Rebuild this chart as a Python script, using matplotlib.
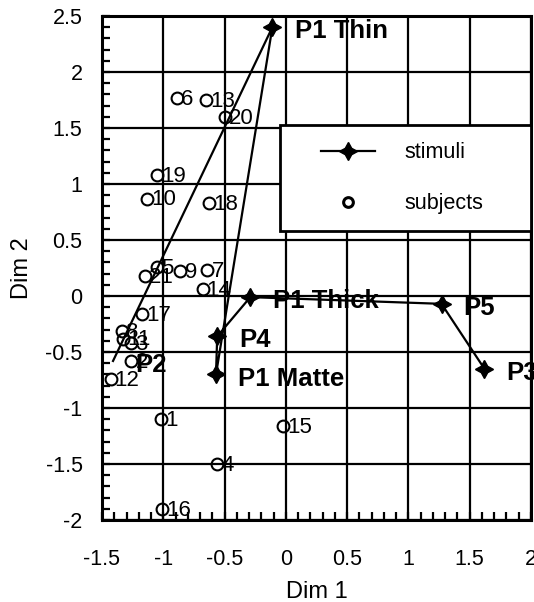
import matplotlib
matplotlib.use("Agg")
import matplotlib.pyplot as plt
from matplotlib.patches import Rectangle
from matplotlib.lines import Line2D
from matplotlib.ticker import MultipleLocator

plt.rcParams['font.family'] = ['Liberation Sans', 'DejaVu Sans']

# stimuli, in the order they are joined by the line
stim_names = ['P2', 'P1 Thin', 'P1 Matte', 'P4', 'P1 Thick', 'P5', 'P3']
stim_x = [-1.41, -0.11, -0.57, -0.56, -0.29, 1.27, 1.62]
stim_y = [-0.58, 2.40, -0.70, -0.36, -0.01, -0.07, -0.65]

# subjects 1..21
subj_ids = list(range(1, 22))
subj_x = [-1.02, -1.26, -1.26, -0.56, -1.05, -0.89, -0.64, -1.34, -0.86, -1.13, -1.33,
          -1.43, -0.65, -0.68, -0.02, -1.01, -1.17, -0.63, -1.05, -0.50, -1.15]
subj_y = [-1.10, -0.58, -0.42, -1.50, 0.26, 1.77, 0.23, -0.31, 0.22, 0.87, -0.38,
          -0.74, 1.75, 0.06, -1.16, -1.90, -0.16, 0.83, 1.08, 1.60, 0.18]

star = (4, 1, 0)

fig = plt.figure(figsize=(5.34, 6.02), dpi=100)
ax = fig.add_axes([102 / 534, 82 / 602, 429 / 534, 504 / 602])

ax.set_xlim(-1.5, 2)
ax.set_ylim(-2, 2.5)
ax.xaxis.set_major_locator(MultipleLocator(0.5))
ax.yaxis.set_major_locator(MultipleLocator(0.5))
ax.xaxis.set_minor_locator(MultipleLocator(0.1))
ax.yaxis.set_minor_locator(MultipleLocator(0.1))
ax.xaxis.set_major_formatter(plt.FuncFormatter(lambda v, p: f"{v:g}"))
ax.yaxis.set_major_formatter(plt.FuncFormatter(lambda v, p: f"{v:g}"))
ax.grid(True, which='major', color='black', linewidth=1.6)
ax.set_axisbelow(True)
ax.tick_params(which='both', direction='in', width=1.6, length=6, color='black')
ax.tick_params(axis='x', which='major', labelsize=15.5, pad=21)
ax.tick_params(axis='y', which='major', labelsize=15.5, pad=14)
for s in ax.spines.values():
    s.set_linewidth(2.2)

# subjects
ax.plot(subj_x, subj_y, linestyle='none', marker='o', markersize=8.5,
        markerfacecolor='none', markeredgecolor='black', markeredgewidth=1.5, zorder=3)
for i, x, y in zip(subj_ids, subj_x, subj_y):
    ax.annotate(str(i), (x, y), xytext=(3, -1), textcoords='offset points',
                ha='left', va='center', fontsize=16, zorder=3)

# stimuli
ax.plot(stim_x, stim_y, color='black', linewidth=1.6, zorder=4)
ax.plot(stim_x[1:], stim_y[1:], linestyle='none', marker=star, markersize=13,
        color='black', zorder=4)
for n, x, y in zip(stim_names, stim_x, stim_y):
    ax.annotate(n, (x, y), xytext=(16, -3), textcoords='offset points',
                ha='left', va='center', fontsize=18.5, fontweight='bold',
                annotation_clip=False, zorder=4)

ax.set_xlabel('Dim 1', fontsize=17, labelpad=8)
ax.set_ylabel('Dim 2', fontsize=17, labelpad=9)

# legend box
ax.add_patch(Rectangle((0.415, 0.573), 0.585, 0.211, transform=ax.transAxes,
                       facecolor='white', edgecolor='black', linewidth=2, zorder=5))
handles = [Line2D([], [], color='black', linewidth=1.6, marker=star, markersize=13),
           Line2D([], [], linestyle='none', marker='o', markersize=7,
                  markerfacecolor='none', markeredgecolor='black', markeredgewidth=2.2)]
leg = ax.legend(handles, ['stimuli', 'subjects'], loc='center',
                bbox_to_anchor=(0.70, 0.678), frameon=False, fontsize=15.5,
                handlelength=2.5, handletextpad=1.4, labelspacing=1.4)
leg.set_zorder(6)

fig.savefig('out.png', dpi=100)
